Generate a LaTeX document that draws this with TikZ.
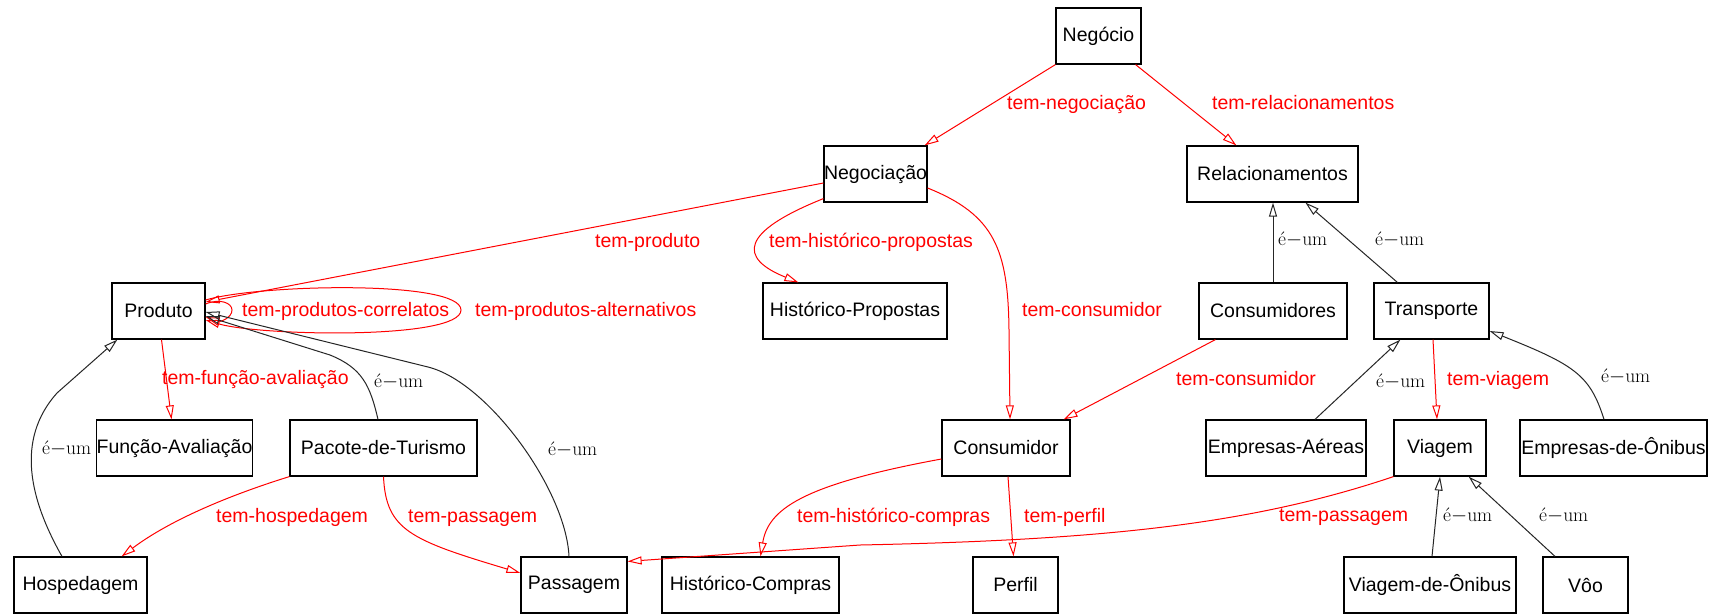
\documentclass[tikz,border=0pt]{standalone}
\usepackage{fontspec}
\usetikzlibrary{arrows.meta,calc}
\newfontfamily\diagsans{Liberation Sans}
\begin{document}
\begin{tikzpicture}[x=1pt,y=-1pt,
  box/.style={draw=black, line width=1.2pt, fill=white, minimum height=56pt,
    inner sep=0pt, font=\diagsans\fontsize{19.5}{22}\selectfont},
  has/.style={draw=red, line width=1pt, -{Triangle[open, length=14pt, width=8pt]}},
  isa/.style={draw=black!85, line width=1pt, -{Triangle[open, length=14pt, width=8pt]}},
  haslbl/.style={text=red, anchor=base west, inner sep=0pt,
    font=\diagsans\fontsize{19.5}{22}\selectfont},
  isalbl/.style={text=black, anchor=base west, inner sep=0pt,
    font=\rmfamily\fontsize{19.5}{22}\selectfont}]

\fill[white] (0,0) rectangle (1713,614);
\useasboundingbox (0,0) rectangle (1713,614);

% concept boxes
\node[box, minimum width=85]  (negocio)      at (1098.5,36) {Negócio};
\node[box, minimum width=103] (negociacao)   at (875.5,174) {Negociação};
\node[box, minimum width=171] (relac)        at (1272.5,174) {Relacionamentos};
\node[box, minimum width=93]  (produto)      at (158.5,311) {Produto};
\node[box, minimum width=184] (histprop)     at (855,311) {Histórico-Propostas};
\node[box, minimum width=148] (consumidores) at (1273,311) {Consumidores};
\node[box, minimum width=115] (transporte)   at (1431.5,311) {Transporte};
\node[box, minimum width=143] (funcao)       at (174.5,448) {Função-Avaliação};
\node[box, minimum width=187] (pacote)       at (383.5,448) {Pacote-de-Turismo};
\node[box, minimum width=128] (consumidor)   at (1006,448) {Consumidor};
\node[box, minimum width=160] (empaereas)    at (1286,448) {Empresas-Aéreas};
\node[box, minimum width=92]  (viagem)       at (1440,448) {Viagem};
\node[box, minimum width=187] (emponibus)    at (1613.5,448) {Empresas-de-Ônibus};
\node[box, minimum width=133] (hospedagem)   at (80.5,585) {Hospedagem};
\node[box, minimum width=106] (passagem)     at (574,585) {Passagem};
\node[box, minimum width=177] (histcompras)  at (750.5,585) {Histórico-Compras};
\node[box, minimum width=85]  (perfil)       at (1015.5,585) {Perfil};
\node[box, minimum width=172] (viagemonibus) at (1430,585) {Viagem-de-Ônibus};
\node[box, minimum width=85]  (voo)          at (1585.5,585) {Vôo};

% "tem-" relations
\draw[has] (negocio.south west) -- ($(negociacao.north east)+(-3,0)$);
\draw[has] ($(negocio.south east)+(-6,0)$) -- ($(relac.north west)+(50,0)$);
\draw[has] ($(negociacao.west)+(0,9)$) -- ($(produto.east)+(0,-9)$);
\draw[has] ($(negociacao.south west)+(0,-4)$) .. controls (740,232) and (738,258) .. ($(histprop.north west)+(36,0)$);
\draw[has] ($(negociacao.east)+(0,14)$) .. controls (995,215) and (1008,250) .. (1009,330) -- ($(consumidor.north)+(4,0)$);
\draw[has] ($(produto.east)+(0,-7)$) .. controls (220,298) and (232,303) .. (232,310) .. controls (232,318) and (220,322) .. ($(produto.east)+(0,6)$);
\draw[has] ($(produto.east)+(0,-11)$) .. controls (260,284) and (461,280) .. (461,310) .. controls (461,340) and (260,336) .. ($(produto.east)+(0,9)$);
\draw[has] ($(produto.south)+(3,0)$) -- ($(funcao.north)+(-3,0)$);
\draw[has] (pacote.south west) .. controls (230,495) and (170,520) .. ($(hospedagem.north east)+(-26,0)$);
\draw[has] (pacote.south) .. controls (386,530) and (410,540) .. ($(passagem.west)+(0,-12)$);
\draw[has] ($(consumidores.south west)+(17,0)$) -- ($(consumidor.north east)+(-7,0)$);
\draw[has] ($(consumidor.west)+(0,11)$) .. controls (800,485) and (768,510) .. ($(histcompras.north)+(10,0)$);
\draw[has] ($(consumidor.south)+(2,0)$) -- ($(perfil.north)+(-2,0)$);
\draw[has] ($(transporte.south)+(1.5,0)$) -- ($(viagem.north)+(-3,0)$);
\draw[has] (viagem.south west) .. controls (1250,525) and (1100,540) .. (860,545) -- ($(passagem.north east)+(0,5)$);

% "é-um" relations
\draw[isa] (consumidores.north) -- (consumidores.north |- relac.south);
\draw[isa] ($(transporte.north west)+(24,0)$) -- ($(relac.south west)+(119,0)$);
\draw[isa] ($(empaereas.north)+(29,0)$) -- ($(transporte.south west)+(27,0)$);
\draw[isa] ($(emponibus.north)+(-9.5,0)$) .. controls (1590,375) and (1575,365) .. ($(transporte.east)+(0,20)$);
\draw[isa] ($(viagemonibus.north)+(2,0)$) -- (viagem.south);
\draw[isa] ($(voo.north)+(-30.5,0)$) -- ($(viagem.south east)+(-18,0)$);
\draw[isa] ($(hospedagem.north)+(-18.5,0)$) .. controls (30,500) and (15,440) .. (57,393) -- ($(produto.south west)+(6,0)$);
\draw[isa] ($(pacote.north)+(-5.5,0)$) .. controls (370,385) and (362,368) .. (330,355) -- ($(produto.east)+(0,5)$);
\draw[isa] ($(passagem.north)+(-5,0)$) .. controls (566,490) and (488,382) .. (428,367) -- ($(produto.east)+(0,1)$);

% relation labels
\node[haslbl] (lNegociacao)   at (1007,109) {tem-negociação};
\node[haslbl] (lRelac)        at (1212,109) {tem-relacionamentos};
\node[haslbl] (lProduto)      at (595,247)  {tem-produto};
\node[haslbl] (lHistProp)     at (769,247)  {tem-histórico-propostas};
\node[haslbl] (lConsumidorA)  at (1022,316) {tem-consumidor};
\node[haslbl] (lCorrelatos)   at (242,316)  {tem-produtos-correlatos};
\node[haslbl] (lAlternativos) at (475,316)  {tem-produtos-alternativos};
\node[haslbl] (lFuncao)       at (162,384)  {tem-função-avaliação};
\node[haslbl] (lHospedagem)   at (216,522)  {tem-hospedagem};
\node[haslbl] (lPassagemA)    at (408,522)  {tem-passagem};
\node[haslbl] (lHistCompras)  at (797,522)  {tem-histórico-compras};
\node[haslbl] (lPerfil)       at (1024,522) {tem-perfil};
\node[haslbl] (lConsumidorB)  at (1176,385) {tem-consumidor};
\node[haslbl] (lViagem)       at (1447,385) {tem-viagem};
\node[haslbl] (lPassagemB)    at (1279,521) {tem-passagem};

\node[isalbl] (iPacote)     at (374,387)  {é$-$um};
\node[isalbl] (iHospedagem) at (42,454)   {é$-$um};
\node[isalbl] (iPassagem)   at (548,455)  {é$-$um};
\node[isalbl] (iConsum)     at (1278,245) {é$-$um};
\node[isalbl] (iTransp)     at (1375,245) {é$-$um};
\node[isalbl] (iAereas)     at (1376,387) {é$-$um};
\node[isalbl] (iOnibus)     at (1601,382) {é$-$um};
\node[isalbl] (iViagOnibus) at (1443,521) {é$-$um};
\node[isalbl] (iVoo)        at (1539,521) {é$-$um};
\end{tikzpicture}
\end{document}
